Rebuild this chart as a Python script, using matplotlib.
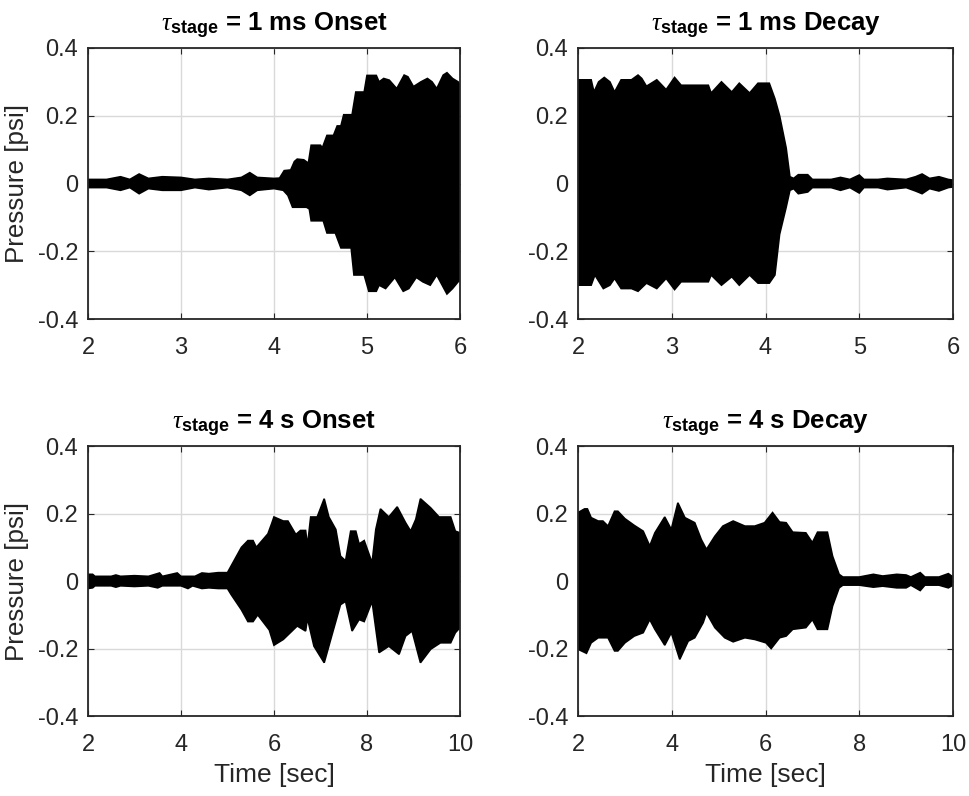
import matplotlib
matplotlib.use("Agg")
import matplotlib.pyplot as plt
import numpy as np

# ---------------- data (envelopes) ----------------
# Panel A: tau_stage = 1 ms Onset
a_up_t = [2.0, 2.2, 2.35, 2.45, 2.55, 2.65, 2.8, 3.0, 3.15, 3.3, 3.5, 3.65, 3.74, 3.82, 4.0, 4.06,
          4.11, 4.18, 4.22, 4.25, 4.32, 4.37, 4.4, 4.5, 4.52, 4.57, 4.64, 4.68, 4.72, 4.75, 4.84,
          4.88, 4.97, 5.0, 5.1, 5.13, 5.18, 5.24, 5.32, 5.4, 5.44, 5.5, 5.58, 5.65, 5.7, 5.75,
          5.82, 5.86, 5.92, 5.98, 6.0]
a_up_v = [0.012, 0.012, 0.02, 0.012, 0.028, 0.015, 0.02, 0.018, 0.012, 0.015, 0.012, 0.018, 0.032,
          0.018, 0.015, 0.016, 0.038, 0.04, 0.065, 0.072, 0.07, 0.06, 0.113, 0.113, 0.105, 0.142,
          0.142, 0.17, 0.17, 0.203, 0.203, 0.27, 0.27, 0.319, 0.319, 0.30, 0.31, 0.305, 0.28, 0.32,
          0.315, 0.286, 0.30, 0.31, 0.30, 0.28, 0.32, 0.327, 0.31, 0.30, 0.29]
a_lo_t = [2.0, 2.2, 2.35, 2.45, 2.55, 2.65, 2.8, 3.0, 3.15, 3.3, 3.5, 3.65, 3.74, 3.82, 4.0, 4.1,
          4.15, 4.2, 4.35, 4.38, 4.4, 4.53, 4.57, 4.66, 4.72, 4.83, 4.86, 4.97, 5.02, 5.1, 5.13,
          5.2, 5.3, 5.39, 5.45, 5.53, 5.6, 5.68, 5.75, 5.86, 5.92, 5.98, 6.0]
a_lo_v = [-0.012, -0.012, -0.02, -0.012, -0.03, -0.015, -0.02, -0.02, -0.012, -0.018, -0.012,
          -0.02, -0.035, -0.02, -0.015, -0.02, -0.035, -0.07, -0.07, -0.075, -0.11, -0.11, -0.146,
          -0.146, -0.19, -0.19, -0.27, -0.27, -0.318, -0.318, -0.30, -0.31, -0.277, -0.318, -0.31,
          -0.277, -0.29, -0.30, -0.27, -0.326, -0.31, -0.29, -0.285]

# Panel B: tau_stage = 1 ms Decay
b_up_t = [2.0, 2.14, 2.17, 2.22, 2.28, 2.34, 2.39, 2.46, 2.57, 2.64, 2.68, 2.73, 2.84, 2.94, 3.03,
          3.10, 3.39, 3.42, 3.53, 3.64, 3.72, 3.83, 3.92, 4.04, 4.1, 4.15, 4.22, 4.26, 4.3, 4.35,
          4.45, 4.5, 4.7, 4.8, 4.9, 5.0, 5.05, 5.2, 5.3, 5.5, 5.6, 5.67, 5.75, 5.85, 5.95, 6.0]
b_up_v = [0.306, 0.306, 0.27, 0.30, 0.313, 0.30, 0.27, 0.306, 0.306, 0.32, 0.31, 0.287, 0.306,
          0.277, 0.313, 0.29, 0.29, 0.267, 0.30, 0.27, 0.296, 0.267, 0.296, 0.296, 0.25, 0.2,
          0.105, 0.02, 0.015, 0.026, 0.026, 0.012, 0.012, 0.018, 0.012, 0.025, 0.012, 0.012,
          0.015, 0.012, 0.02, 0.028, 0.015, 0.02, 0.012, 0.01]
b_lo_t = [2.0, 2.14, 2.18, 2.27, 2.34, 2.39, 2.46, 2.57, 2.64, 2.73, 2.84, 2.94, 3.03, 3.10, 3.39,
          3.42, 3.53, 3.64, 3.72, 3.83, 3.92, 4.04, 4.1, 4.15, 4.22, 4.26, 4.3, 4.35, 4.45, 4.5,
          4.7, 4.8, 4.9, 5.0, 5.05, 5.2, 5.3, 5.5, 5.6, 5.67, 5.75, 5.85, 5.95, 6.0]
b_lo_v = [-0.30, -0.30, -0.27, -0.31, -0.30, -0.28, -0.31, -0.31, -0.318, -0.294, -0.31, -0.28,
          -0.313, -0.29, -0.29, -0.27, -0.30, -0.275, -0.30, -0.27, -0.294, -0.294, -0.27, -0.15,
          -0.07, -0.02, -0.015, -0.03, -0.025, -0.012, -0.012, -0.02, -0.012, -0.028, -0.012,
          -0.012, -0.018, -0.012, -0.022, -0.03, -0.015, -0.022, -0.012, -0.01]

# Panel C: tau_stage = 4 s Onset
c_up_t = [2.0, 2.1, 2.15, 2.5, 2.6, 2.7, 3.0, 3.3, 3.54, 3.6, 3.92, 4.0, 4.3, 4.45, 4.6, 4.8, 5.0,
          5.08, 5.3, 5.44, 5.55, 5.62, 5.87, 5.95, 6.0, 6.2, 6.3, 6.47, 6.57, 6.68, 6.72, 6.79,
          6.93, 7.08, 7.18, 7.33, 7.43, 7.54, 7.65, 7.76, 7.83, 7.94, 8.11, 8.19, 8.29, 8.47,
          8.65, 8.83, 8.94, 9.05, 9.15, 9.37, 9.55, 9.8, 9.9, 10.0]
c_up_v = [0.02, 0.02, 0.014, 0.014, 0.018, 0.014, 0.016, 0.014, 0.024, 0.014, 0.024, 0.014, 0.014,
          0.024, 0.022, 0.025, 0.025, 0.045, 0.10, 0.12, 0.12, 0.10, 0.14, 0.17, 0.19, 0.178,
          0.178, 0.138, 0.15, 0.15, 0.104, 0.19, 0.19, 0.244, 0.19, 0.153, 0.074, 0.06, 0.148,
          0.148, 0.11, 0.12, 0.054, 0.153, 0.214, 0.19, 0.22, 0.173, 0.148, 0.183, 0.244, 0.217,
          0.19, 0.19, 0.148, 0.143]
c_lo_t = [2.0, 2.1, 2.15, 2.5, 2.6, 2.7, 3.0, 3.3, 3.5, 3.6, 4.0, 4.15, 4.25, 4.45, 4.6, 4.8, 5.0,
          5.08, 5.3, 5.44, 5.55, 5.65, 5.9, 6.0, 6.2, 6.5, 6.68, 6.72, 6.86, 7.08, 7.25, 7.43,
          7.54, 7.68, 7.83, 7.94, 8.11, 8.26, 8.47, 8.69, 8.83, 8.97, 9.15, 9.37, 9.58, 9.8, 9.9,
          10.0]
c_lo_v = [-0.022, -0.02, -0.014, -0.014, -0.018, -0.014, -0.016, -0.014, -0.02, -0.014, -0.014,
          -0.022, -0.014, -0.022, -0.02, -0.022, -0.022, -0.04, -0.085, -0.12, -0.12, -0.10,
          -0.145, -0.19, -0.173, -0.133, -0.148, -0.11, -0.193, -0.242, -0.158, -0.07, -0.06,
          -0.148, -0.114, -0.12, -0.06, -0.212, -0.193, -0.217, -0.163, -0.148, -0.242, -0.202,
          -0.183, -0.183, -0.153, -0.138]

# Panel D: tau_stage = 4 s Decay
d_up_t = [2.0, 2.14, 2.2, 2.28, 2.43, 2.53, 2.64, 2.78, 2.85, 3.0, 3.2, 3.39, 3.53, 3.64, 3.85,
          3.99, 4.13, 4.28, 4.49, 4.63, 4.74, 4.92, 5.09, 5.31, 5.56, 5.77, 5.98, 6.15, 6.3, 6.44,
          6.58, 6.86, 7.0, 7.11, 7.32, 7.43, 7.57, 7.65, 8.0, 8.3, 8.5, 8.8, 9.0, 9.1, 9.3, 9.4,
          9.7, 9.9, 10.0]
d_up_v = [0.203, 0.214, 0.214, 0.188, 0.178, 0.178, 0.163, 0.207, 0.207, 0.185, 0.165, 0.148,
          0.104, 0.143, 0.19, 0.153, 0.232, 0.188, 0.173, 0.123, 0.094, 0.133, 0.163, 0.178,
          0.163, 0.163, 0.173, 0.203, 0.175, 0.173, 0.145, 0.143, 0.114, 0.145, 0.145, 0.074,
          0.02, 0.012, 0.012, 0.02, 0.015, 0.02, 0.018, 0.012, 0.025, 0.012, 0.012, 0.022, 0.012]
d_lo_t = [2.0, 2.18, 2.28, 2.43, 2.64, 2.78, 2.85, 3.0, 3.2, 3.39, 3.53, 3.64, 3.85, 3.99, 4.17,
          4.35, 4.49, 4.67, 4.74, 4.92, 5.13, 5.31, 5.56, 5.77, 6.01, 6.12, 6.3, 6.44, 6.58, 6.86,
          7.0, 7.11, 7.32, 7.43, 7.57, 7.65, 8.0, 8.3, 8.5, 8.8, 9.0, 9.1, 9.3, 9.4, 9.7, 9.9,
          10.0]
d_lo_v = [-0.202, -0.214, -0.183, -0.168, -0.168, -0.207, -0.207, -0.183, -0.163, -0.153, -0.114,
          -0.143, -0.19, -0.153, -0.232, -0.178, -0.168, -0.123, -0.094, -0.138, -0.168, -0.18,
          -0.168, -0.173, -0.183, -0.2, -0.168, -0.163, -0.143, -0.138, -0.114, -0.143, -0.143,
          -0.074, -0.02, -0.012, -0.012, -0.018, -0.015, -0.02, -0.02, -0.012, -0.028, -0.012,
          -0.012, -0.02, -0.012]

titles = [r"$\tau_{\mathbf{stage}}$ = 1 ms Onset", r"$\tau_{\mathbf{stage}}$ = 1 ms Decay",
          r"$\tau_{\mathbf{stage}}$ = 4 s Onset", r"$\tau_{\mathbf{stage}}$ = 4 s Decay"]
xticks_top = [2, 3, 4, 5, 6]
xticks_bot = [2, 4, 6, 8, 10]
yticks = [-0.4, -0.2, 0, 0.2, 0.4]
ytick_labels = ["-0.4", "-0.2", "0", "0.2", "0.4"]

# ---------------- style ----------------
plt.rcParams["font.family"] = ["Liberation Sans", "DejaVu Sans"]
plt.rcParams["mathtext.fontset"] = "custom"
plt.rcParams["mathtext.rm"] = "Liberation Sans:bold"
plt.rcParams["mathtext.bf"] = "Liberation Sans:bold"
plt.rcParams["mathtext.it"] = "Liberation Serif:italic"
plt.rcParams["axes.unicode_minus"] = False

fig = plt.figure(figsize=(9.7, 7.96), dpi=100)
positions = [
    [0.0907, 0.5992, 0.3835, 0.3405],
    [0.5959, 0.5992, 0.3866, 0.3405],
    [0.0907, 0.1005, 0.3835, 0.3390],
    [0.5959, 0.1005, 0.3866, 0.3390],
]
data = [(a_up_t, a_up_v, a_lo_t, a_lo_v), (b_up_t, b_up_v, b_lo_t, b_lo_v),
        (c_up_t, c_up_v, c_lo_t, c_lo_v), (d_up_t, d_up_v, d_lo_t, d_lo_v)]

for i, (pos, (ut, uv, lt, lv)) in enumerate(zip(positions, data)):
    ax = fig.add_axes(pos)
    xs = list(ut) + list(lt)[::-1]
    ys = list(uv) + list(lv)[::-1]
    ax.fill(xs, ys, color="black", lw=1.2, zorder=3)
    if i < 2:
        ax.set_xlim(2, 6)
        ax.set_xticks(xticks_top)
    else:
        ax.set_xlim(2, 10)
        ax.set_xticks(xticks_bot)
        ax.set_xlabel("Time [sec]", fontsize=19, color="#262626", labelpad=5)
    ax.set_ylim(-0.4, 0.4)
    ax.set_yticks(yticks)
    ax.set_yticklabels(ytick_labels)
    if i % 2 == 0:
        ax.set_ylabel("Pressure [psi]", fontsize=18.7, color="#262626", labelpad=6)
    ax.set_title(titles[i], fontsize=18.5, fontweight="bold", pad=12)
    ax.grid(True, color="#d9d9d9", lw=1.0, zorder=0)
    ax.set_axisbelow(True)
    ax.tick_params(direction="in", length=4, width=0.8, labelsize=17, colors="#262626",
                   top=True, right=True)
    ax.tick_params(axis="x", pad=13)
    ax.tick_params(axis="y", pad=7)
    for s in ax.spines.values():
        s.set_linewidth(1.3)
        s.set_color("#262626")
        s.set_zorder(5)

fig.savefig("out.png", dpi=100)
